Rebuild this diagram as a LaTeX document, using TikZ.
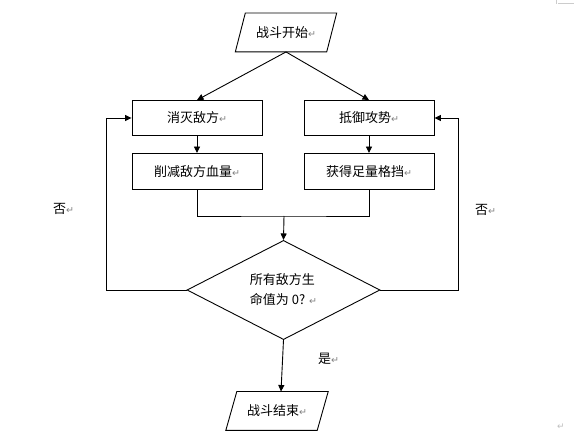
\documentclass[tikz,border=0pt]{standalone}
\usepackage{fontspec}
\usetikzlibrary{arrows.meta,shapes.geometric}
\newfontfamily\cjk{Noto Sans CJK SC}
\newfontfamily\symf{DejaVu Sans}
\newcommand\parmk{{\symf\fontsize{9.5}{9.5}\selectfont\color{gray}↵}}
\begin{document}
\begin{tikzpicture}[x=1pt,y=-1pt,
  every node/.style={font=\cjk\fontsize{13}{20}\selectfont, inner sep=0pt},
  line/.style={line width=0.9pt},
  arr/.style={line, -{Triangle[length=6.5pt,width=6pt]}},
  box/.style={draw, line, minimum width=130pt, minimum height=35pt},
  parabody/.style={minimum width=91pt, minimum height=38.5pt}]
\fill[white] (0,0) rectangle (574,438);
\useasboundingbox (0,0) rectangle (574,438);

\node[parabody] (start) at (286,32.5) {战斗开始\parmk};
\draw[line] ([xshift=-5pt]start.south west) -- ([xshift=5pt]start.north west)
  -- ([xshift=5pt]start.north east) -- ([xshift=-5pt]start.south east) -- cycle;
\node[box] (kill) at (197,118) {消灭敌方\parmk};
\node[box, minimum height=36pt] (cut) at (197,171.5) {削减敌方血量\parmk};
\node[box] (def) at (369,118) {抵御攻势\parmk};
\node[box, minimum height=36pt] (gain) at (369,171.5) {获得足量格挡\parmk};
\node[draw, line, diamond, minimum width=193pt, minimum height=98pt, align=left] (dia) at (283.5,290) {所有敌方生\\命值为 0? \parmk};
\node[parabody] (end) at (277,411) {战斗结束\parmk};
\draw[line] ([xshift=-5.5pt]end.south west) -- ([xshift=5.5pt]end.north west)
  -- ([xshift=5.5pt]end.north east) -- ([xshift=-5.5pt]end.south east) -- cycle;

\node[anchor=west] (no1) at (53,209) {否\parmk};
\node[anchor=west] (no2) at (475,210) {否\parmk};
\node[anchor=west] (yes) at (318,359) {是\parmk};
\node (pm) at (561,427) {\textcolor{gray!50}{\symf\fontsize{9}{9}\selectfont ↵}};

\draw[arr] (start.south) -- (kill.north);
\draw[arr] (start.south) -- (def.north);
\draw[arr] (kill) -- (cut);
\draw[arr] (def) -- (gain);
\coordinate (m) at (284,216);
\draw[line] (cut.south) |- (m) -| (gain.south);
\draw[arr] (m) -- (dia.north);
\draw[arr] (dia.west) -- ++(-80,0) |- (kill.west);
\draw[arr] (dia.east) -- ++(78,0) |- (def.east);
\draw[arr] (dia.south) -- ([xshift=4pt]end.north);

\draw[gray!40, line width=0.6pt] (556,0) -- (556,4) (558,3) -- (574,3);
\end{tikzpicture}
\end{document}
